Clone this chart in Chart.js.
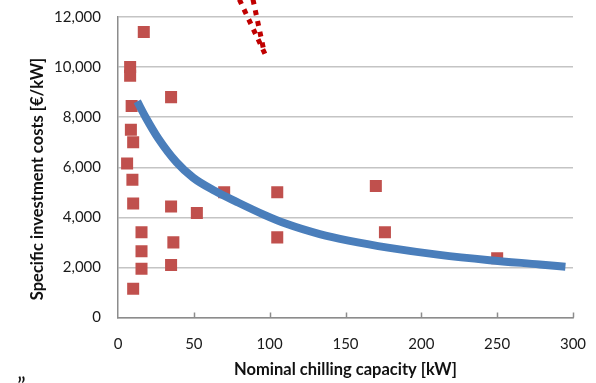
<!DOCTYPE html>
<html lang="en">
<head>
<meta charset="UTF-8">
<title>Specific investment costs</title>
<script src="https://cdn.jsdelivr.net/npm/chart.js"></script>
<style>
    html, body { margin: 0; padding: 0; background: #fff; }
    .janela { position: relative; width: 596px; height: 383px; }
</style>
</head>
<body>
<div class="janela">
    <canvas id="graficoCustos"></canvas>
</div>

<script>
    // measured plants
    const capacidade = [17, 8, 8, 35, 9, 8.5, 10, 6, 9.5, 10, 35, 52, 15.5, 36.5, 15.5, 15.5, 35, 10, 70, 105, 105, 170, 176, 250];
    const custo = [11400, 10000, 9650, 8800, 8450, 7500, 7000, 6150, 5500, 4550, 4430, 4170, 3400, 3000, 2650, 1950, 2100, 1150, 5000, 5000, 3200, 5250, 3400, 2370];

    // trend curve
    const curvaCapacidade = [12.7, 18.2, 26.6, 38.6, 49.6, 64, 78.2, 95.7, 111, 133, 152, 179, 212, 245, 278, 295];
    const curvaCusto = [8630, 8000, 7150, 6200, 5580, 5050, 4620, 4120, 3740, 3330, 3070, 2780, 2500, 2290, 2120, 2030];

    // dotted arrow at the top
    const setaEsqX = [80, 97.5];
    const setaEsqY = [12700, 10450];
    const setaDirX = [89, 96.2];
    const setaDirY = [12700, 10650];

    const eixoX = [0, 50, 100, 150, 200, 250, 300];
    const eixoY = [0, 2000, 4000, 6000, 8000, 10000, 12000];

    const tituloX = 'Nominal chilling capacity [kW]';
    const tituloY = 'Specific investment costs [€/kW]';

    const pares = (xs, ys) => xs.map((x, i) => ({ x: x, y: ys[i] }));

    const fonte = 'Lato, "Open Sans", sans-serif';

    // small tick marks inside the plot, axis titles
    const extras = {
        id: 'extras',
        afterDraw(chart) {
            const ctx = chart.ctx;
            const sx = chart.scales.x;
            const area = chart.chartArea;
            ctx.save();
            ctx.strokeStyle = '#8c8c8c';
            ctx.lineWidth = 1.5;
            eixoX.forEach(v => {
                if (v === 0) return;
                const px = Math.round(sx.getPixelForValue(v)) + 0.5;
                ctx.beginPath();
                ctx.moveTo(px, area.bottom);
                ctx.lineTo(px, area.bottom - 5);
                ctx.stroke();
            });

            ctx.fillStyle = '#111';
            ctx.font = 'bold 16.5px ' + fonte;
            ctx.textAlign = 'center';
            ctx.textBaseline = 'middle';
            ctx.fillText(tituloX, (area.left + area.right) / 2, 370);

            ctx.translate(38, 179);
            ctx.rotate(-Math.PI / 2);
            ctx.fillText(tituloY, 0, 0);
            ctx.restore();

            ctx.save();
            ctx.fillStyle = '#111';
            ctx.font = '24px ' + fonte;
            ctx.textBaseline = 'top';
            ctx.fillText('\u201D', 17, 374);
            ctx.restore();
        }
    };

    new Chart(document.getElementById('graficoCustos'), {
        type: 'scatter',
        data: {
            datasets: [
                {
                    data: pares(setaEsqX, setaEsqY),
                    showLine: true,
                    borderColor: '#c00000',
                    borderWidth: 5,
                    borderDash: [5, 6],
                    pointRadius: 0,
                    clip: false,
                    order: 0
                },
                {
                    data: pares(setaDirX, setaDirY),
                    showLine: true,
                    borderColor: '#c00000',
                    borderWidth: 5,
                    borderDash: [5, 6],
                    pointRadius: 0,
                    clip: false,
                    order: 0
                },
                {
                    data: pares(curvaCapacidade, curvaCusto),
                    showLine: true,
                    borderColor: '#4a7ebb',
                    borderWidth: 8,
                    cubicInterpolationMode: 'monotone',
                    pointRadius: 0,
                    order: 1
                },
                {
                    data: pares(capacidade, custo),
                    pointStyle: 'rect',
                    pointRadius: 8.5,
                    pointBackgroundColor: '#c0504d',
                    pointBorderWidth: 0,
                    order: 2
                }
            ]
        },
        options: {
            responsive: true,
            maintainAspectRatio: false,
            animation: false,
            layout: {
                padding: { top: 17, right: 23, left: 0, bottom: 0 }
            },
            plugins: {
                legend: { display: false },
                tooltip: { enabled: false }
            },
            scales: {
                x: {
                    type: 'linear',
                    min: 0,
                    max: 300,
                    afterBuildTicks: s => { s.ticks = eixoX.map(v => ({ value: v })); },
                    afterFit: s => {
                        s.height = 65.5;
                        s.paddingLeft = 0;
                        s.paddingRight = 0;
                    },
                    grid: { display: false, drawTicks: false },
                    border: { display: true, color: '#8c8c8c', width: 1.5 },
                    ticks: {
                        padding: 18,
                        color: '#1a1a1a',
                        font: { family: fonte, size: 15 }
                    }
                },
                y: {
                    type: 'linear',
                    min: 0,
                    max: 12000,
                    afterBuildTicks: s => { s.ticks = eixoY.map(v => ({ value: v })); },
                    afterFit: s => {
                        s.width = 118;
                        s.paddingTop = 0;
                        s.paddingBottom = 0;
                    },
                    grid: { color: '#c4c4c4', lineWidth: 1.5, drawTicks: false },
                    border: { display: true, color: '#8c8c8c', width: 1.5 },
                    ticks: {
                        padding: 17,
                        color: '#1a1a1a',
                        font: { family: fonte, size: 15 },
                        callback: v => v.toLocaleString('en-US')
                    }
                }
            }
        },
        plugins: [extras]
    });
</script>
</body>
</html>
